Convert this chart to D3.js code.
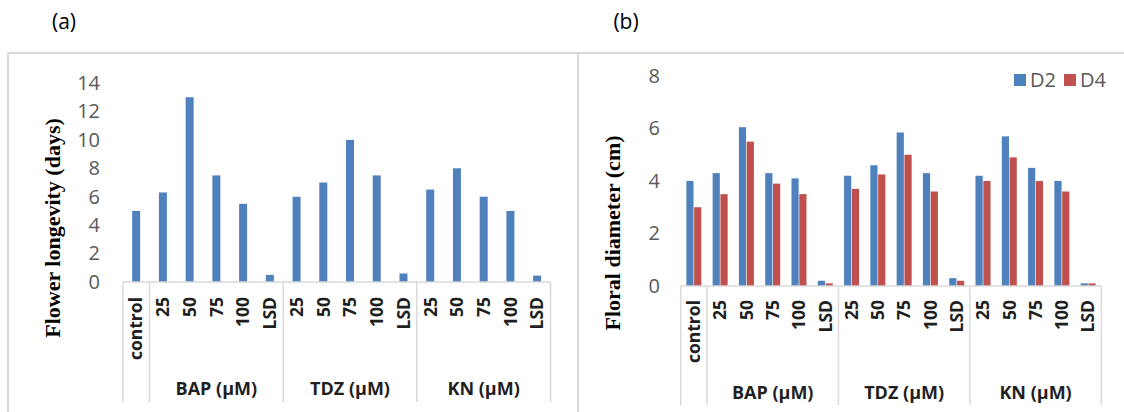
<!DOCTYPE html>
<html>
<head>
<meta charset="utf-8">
<script src="https://cdn.jsdelivr.net/npm/d3@7"></script>
<style>
  body { margin: 0; background: #fff; }
  svg { display: block; }
</style>
</head>
<body>
<div id="chart"></div>
<script>
// data
var tickLabels = ["control","25","50","75","100","LSD","25","50","75","100","LSD","25","50","75","100","LSD"];
var groupNames = ["", "BAP (μM)", "TDZ (μM)", "KN (μM)"];
var groupSizes = [1, 5, 5, 5];
var longevity  = [5.0, 6.3, 13.0, 7.5, 5.5, 0.5, 6.0, 7.0, 10.0, 7.5, 0.6, 6.5, 8.0, 6.0, 5.0, 0.45];
var diameterD2 = [4.0, 4.3, 6.05, 4.3, 4.1, 0.2, 4.2, 4.6, 5.85, 4.3, 0.3, 4.2, 5.7, 4.5, 4.0, 0.1];
var diameterD4 = [3.0, 3.5, 5.5, 3.9, 3.5, 0.1, 3.7, 4.25, 5.0, 3.6, 0.2, 4.0, 4.9, 4.0, 3.6, 0.1];
var seriesNames = ["D2", "D4"];
var yTicksA = [0, 2, 4, 6, 8, 10, 12, 14];
var yTicksB = [0, 2, 4, 6, 8];

var blue = "#4f81bd", red = "#c0504d", grid = "#d9d9d9";

var svg = d3.select("#chart").append("svg")
  .attr("width", 1124)
  .attr("height", 412);

// panel frames
svg.append("rect")
  .attr("x", 8).attr("y", 53).attr("width", 570).attr("height", 380)
  .style("fill", "none").style("stroke", grid).style("stroke-width", 2);
svg.append("rect")
  .attr("x", 578).attr("y", 53).attr("width", 560).attr("height", 380)
  .style("fill", "none").style("stroke", grid).style("stroke-width", 2);

svg.append("text").attr("x", 64).attr("y", 29)
  .style("font-family", "Open Sans").style("font-size", "21px")
  .style("text-anchor", "middle").text("(a)");
svg.append("text").attr("x", 626).attr("y", 29)
  .style("font-family", "Open Sans").style("font-size", "21px")
  .style("text-anchor", "middle").text("(b)");

panel({
  x0: 122.8, x1: 550.5, y0: 282, yTop: 83, yMax: 14, ticks: yTicksA,
  tickX: 100, titleX: 52, titleY: 228, title: "Flower longevity (days)",
  sepBottom: 402, labelTop: 297, groupY: 395,
  series: [longevity], colors: [blue], barW: 8
});

panel({
  x0: 680.7, x1: 1101.3, y0: 286, yTop: 76, yMax: 8, ticks: yTicksB,
  tickX: 660, titleX: 612, titleY: 233, title: "Floral diameter (cm)",
  sepBottom: 405, labelTop: 300, groupY: 399,
  series: [diameterD2, diameterD4], colors: [blue, red], barW: 15
});

// legend for (b)
var legend = svg.append("g").attr("transform", "translate(1014,80)");
seriesNames.forEach(function(s, i) {
  var lx = i * 50;
  legend.append("rect")
    .attr("x", lx).attr("y", -6).attr("width", 12).attr("height", 12)
    .style("fill", i ? red : blue);
  legend.append("text")
    .attr("x", lx + 16).attr("y", 0).attr("dy", "0.35em")
    .style("font-family", "Open Sans").style("font-size", "20px")
    .style("fill", "#595959")
    .text(s);
});

function panel(o) {
  var x = d3.scaleBand()
    .domain(d3.range(tickLabels.length))
    .range([o.x0, o.x1]);
  var y = d3.scaleLinear()
    .domain([0, o.yMax])
    .range([o.y0, o.yTop]);
  var xs = d3.scaleBand()
    .domain(d3.range(o.series.length))
    .range([-o.barW / 2, o.barW / 2])
    .paddingInner(o.series.length > 1 ? 0.08 : 0);

  var g = svg.append("g");

  // y axis labels
  g.append("g")
    .attr("transform", "translate(" + o.tickX + ",0)")
    .call(d3.axisLeft(y).tickValues(o.ticks).tickSize(0).tickPadding(0))
    .call(function(a) { a.select(".domain").remove(); })
    .selectAll("text")
    .style("font-family", "Open Sans")
    .style("font-size", "20px")
    .style("fill", "#595959");

  // y title
  g.append("text")
    .attr("transform", "translate(" + o.titleX + "," + o.titleY + ") rotate(-90)")
    .attr("dy", "0.35em")
    .style("font-family", "Liberation Serif")
    .style("font-weight", "bold")
    .style("font-size", "22px")
    .style("text-anchor", "middle")
    .text(o.title);

  // bars
  o.series.forEach(function(vals, si) {
    g.selectAll("rect.s" + si)
      .data(vals).enter()
      .append("rect")
      .attr("class", "s" + si)
      .attr("x", function(d, i) { return x(i) + x.bandwidth() / 2 + xs(si); })
      .attr("y", function(d) { return y(d); })
      .attr("width", xs.bandwidth())
      .attr("height", function(d) { return y(0) - y(d); })
      .style("fill", o.colors[si]);
  });

  // x axis baseline
  g.append("line")
    .attr("x1", o.x0).attr("x2", o.x1)
    .attr("y1", y(0)).attr("y2", y(0))
    .style("stroke", grid).style("stroke-width", 1.5);

  // category labels, rotated
  g.append("g")
    .attr("transform", "translate(0," + y(0) + ")")
    .call(d3.axisBottom(x).tickSize(0).tickFormat(function(i) { return tickLabels[i]; }))
    .call(function(a) { a.select(".domain").remove(); })
    .selectAll("text")
    .attr("transform", "rotate(-90)")
    .attr("x", -(o.labelTop - o.y0))
    .attr("y", 0)
    .attr("dy", "0.36em")
    .style("text-anchor", "end")
    .style("font-family", "Open Sans")
    .style("font-weight", "bold")
    .style("font-size", "17.5px")
    .style("fill", "#1f1f1f");

  // group separators and names
  var start = 0;
  var bounds = [0];
  groupSizes.forEach(function(n) { start += n; bounds.push(start); });
  g.selectAll("line.sep")
    .data(bounds).enter()
    .append("line")
    .attr("class", "sep")
    .attr("x1", function(b) { return b < tickLabels.length ? x(b) : o.x1; })
    .attr("x2", function(b) { return b < tickLabels.length ? x(b) : o.x1; })
    .attr("y1", y(0)).attr("y2", o.sepBottom)
    .style("stroke", grid).style("stroke-width", 1.5);

  g.selectAll("text.grp")
    .data(groupNames).enter()
    .append("text")
    .attr("class", "grp")
    .attr("x", function(d, i) {
      var a = x(bounds[i]), b = bounds[i + 1] < tickLabels.length ? x(bounds[i + 1]) : o.x1;
      return (a + b) / 2;
    })
    .attr("y", o.groupY)
    .style("text-anchor", "middle")
    .style("font-family", "Open Sans")
    .style("font-weight", "bold")
    .style("font-size", "18px")
    .style("fill", "#1f1f1f")
    .text(function(d) { return d; });
}
</script>
</body>
</html>
